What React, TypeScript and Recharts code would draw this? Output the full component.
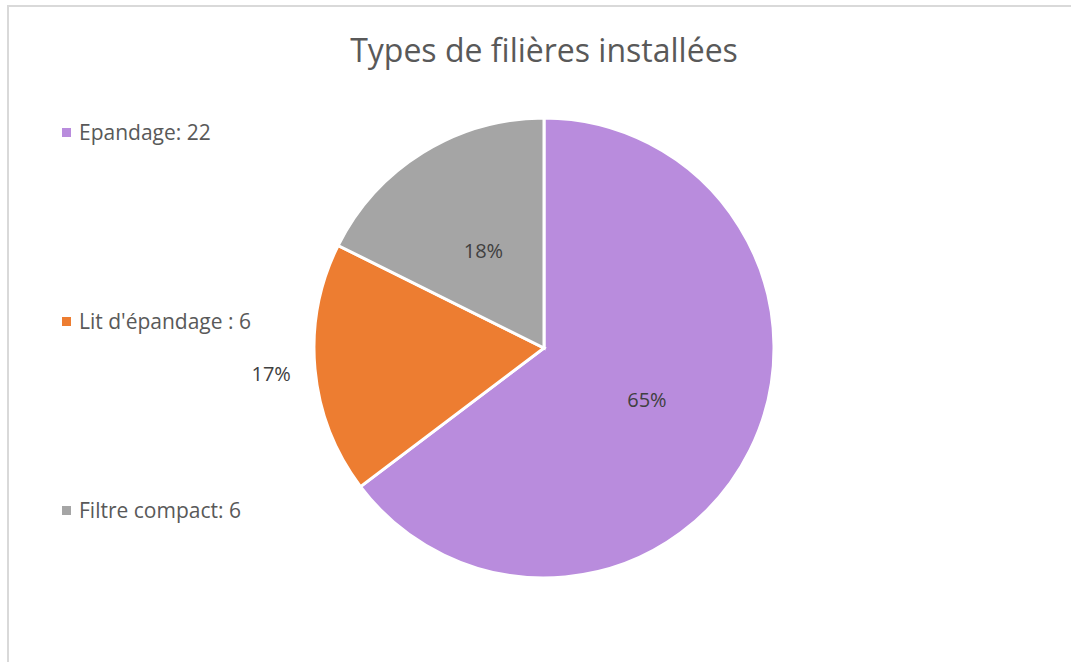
import { PieChart, Pie, Cell } from "recharts";

const categories = ["Epandage", "Lit d'épandage", "Filtre compact"];
const legendLabels = ["Epandage: 22", "Lit d'épandage : 6", "Filtre compact: 6"];
const values = [22, 6, 6];
const percentLabels = ["65%", "17%", "18%"];
const colors = ["#B98CDD", "#ED7D31", "#A5A5A5"];

const data = categories.map((name, i) => ({ name, value: values[i] }));

const RADIAN = Math.PI / 180;
const FONT = "'Open Sans', sans-serif";

// Excel "best fit": the orange slice puts its label outside
const renderLabel = (props: any) => {
  const { cx, cy, midAngle, outerRadius, index } = props;
  const outside = index === 1;
  const r = outside ? outerRadius + 44 : outerRadius * 0.5;
  const x = cx + r * Math.cos(-midAngle * RADIAN);
  const y = cy + r * Math.sin(-midAngle * RADIAN);
  return (
    <text
      x={x}
      y={y}
      fill="#404040"
      fontSize={20}
      fontFamily={FONT}
      textAnchor="middle"
      dominantBaseline="central"
    >
      {percentLabels[index]}
    </text>
  );
};

export default function App() {
  return (
    <div style={{ position: "fixed", left: 0, top: 0, width: 1071, height: 662, background: "#fff", overflow: "hidden" }}>
      <div
        style={{
          position: "absolute",
          left: 7,
          top: 5,
          width: 1100,
          height: 700,
          border: "2px solid #d9d9d9",
        }}
      />
      <div
        style={{
          position: "absolute",
          left: 0,
          width: 1088,
          top: 28,
          lineHeight: "44px",
          textAlign: "center",
          fontFamily: FONT,
          fontSize: 32,
          color: "#595959",
        }}
      >
        Types de filières installées
      </div>
      <div style={{ position: "absolute", left: 0, top: 0 }}>
        <PieChart width={1071} height={662} margin={{ top: 0, right: 0, bottom: 0, left: 0 }}>
          <Pie
            data={data}
            dataKey="value"
            nameKey="name"
            cx={544}
            cy={348}
            outerRadius={230}
            startAngle={90}
            endAngle={-270}
            stroke="#ffffff"
            strokeWidth={3}
            label={renderLabel}
            labelLine={false}
            isAnimationActive={false}
          >
            {data.map((d, i) => (
              <Cell key={d.name} fill={colors[i]} />
            ))}
          </Pie>
        </PieChart>
      </div>
      {legendLabels.map((label, i) => (
        <div
          key={label}
          style={{
            position: "absolute",
            left: 62,
            top: 132 + i * 189 - 15,
            height: 30,
            display: "flex",
            alignItems: "center",
            fontFamily: FONT,
            fontSize: 21,
            color: "#595959",
            whiteSpace: "nowrap",
          }}
        >
          <span style={{ width: 9, height: 9, background: colors[i], marginRight: 8, display: "inline-block" }} />
          {label}
        </div>
      ))}
    </div>
  );
}
